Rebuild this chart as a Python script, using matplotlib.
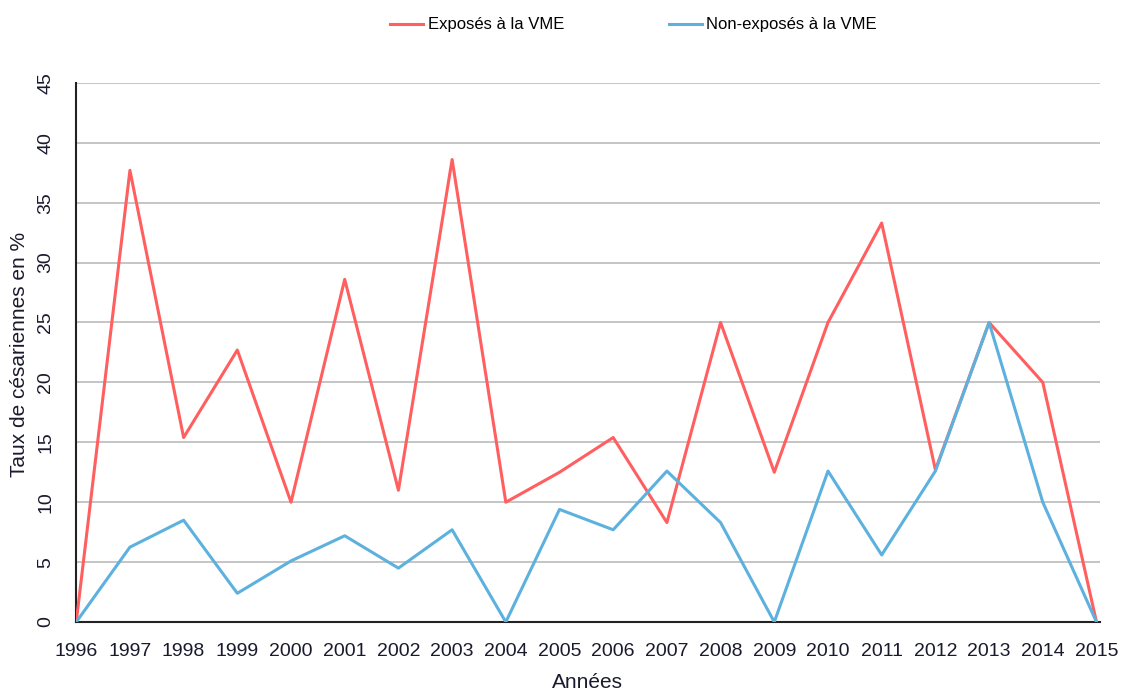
import matplotlib
matplotlib.use("Agg")
import matplotlib.pyplot as plt

plt.rcParams['font.family'] = ['Liberation Sans', 'DejaVu Sans']

years = list(range(1996, 2016))
exposes = [0, 37.7, 15.4, 22.7, 10.0, 28.6, 11.0, 38.6, 10.0, 12.5,
           15.4, 8.3, 25.0, 12.5, 25.0, 33.3, 12.7, 25.0, 20.0, 0]
non_exposes = [0, 6.25, 8.5, 2.4, 5.1, 7.2, 4.5, 7.7, 0, 9.4,
               7.7, 12.6, 8.3, 0, 12.6, 5.6, 12.6, 25.0, 10.0, 0]
yticks = list(range(0, 50, 5))

fig = plt.figure(figsize=(11.21, 6.91), dpi=100)
ax = fig.add_axes([0.068, 0.0998, 0.913, 0.7803])

txt = '#1a1a2e'
red = '#FF5F5F'
blue = '#5DB1DE'
ax.plot(years, exposes, color=red, lw=2.2, label='Exposés à la VME', zorder=3)
ax.plot(years, non_exposes, color=blue, lw=2.2, label='Non-exposés à la VME', zorder=3)

ax.set_xlim(1996, 2015.06)
ax.set_ylim(0, 45)
ax.set_xticks(years)
ax.set_xticklabels([str(y) for y in years], fontsize=14, color=txt)
ax.set_yticks(yticks)
ax.set_yticklabels([str(t) for t in yticks], rotation=90, va='center', fontsize=14, color=txt)
ax.tick_params(axis='x', length=0, pad=15)
ax.tick_params(axis='y', length=0, pad=16)
ax.grid(axis='y', color='#c0c0c0', lw=1.3, zorder=0)
for s in ['top', 'right']:
    ax.spines[s].set_visible(False)
for s in ['left', 'bottom']:
    ax.spines[s].set_color('#222222')
    ax.spines[s].set_linewidth(1.5)

fig.text(587 / 1121, 1 - 683 / 691, 'Années', ha='center', va='center', fontsize=15, color=txt)
fig.text(20 / 1121, 1 - 354 / 691, 'Taux de césariennes en %', ha='center', va='center',
         rotation=90, fontsize=15, color=txt)

fig.legend(loc='center left', bbox_to_anchor=(390 / 1121, 1 - 25 / 691), ncol=2, frameon=False,
           fontsize=12, handlelength=2.0, handletextpad=0.25, columnspacing=6.3,
           borderpad=0, borderaxespad=0)

fig.savefig('out.png', dpi=100)
